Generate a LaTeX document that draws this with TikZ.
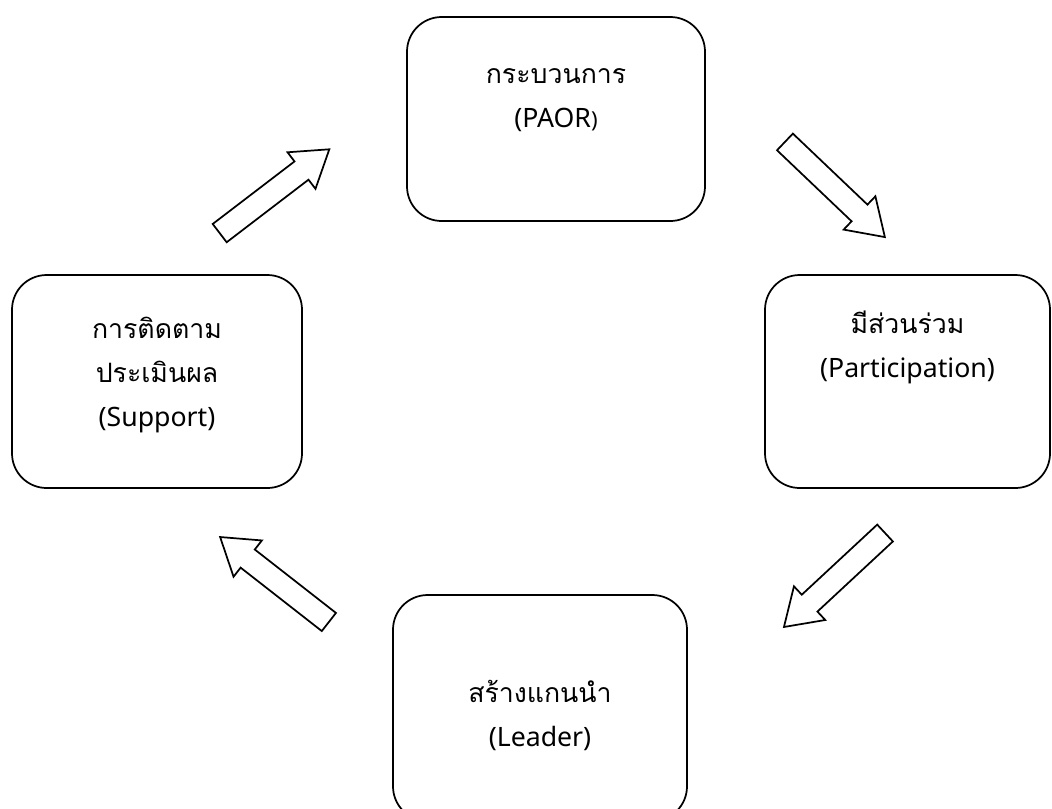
\documentclass[tikz,border=0pt]{standalone}
\usepackage{fontspec}
\setmainfont{Noto Sans}
\newfontfamily\thaifont[Script=Thai]{Loma}
\usetikzlibrary{
  positioning
}
\newcommand{\boxfont}{\fontsize{20}{33}\selectfont}

\begin{document}
\begin{tikzpicture}[
      x=0.75pt, y=-0.75pt,
      stagebox/.style={
         rectangle,
         rounded corners=26pt,
         line width=1.3pt,
         draw=black,
         fill=white,
      },
      stagetext/.style={
         align=center,
         inner sep=0pt,
         font=\boxfont,
      },
      arrowline/.style={draw=black, line width=1.3pt, fill=white, line join=miter},
      cyclearrow/.pic={
         \path[arrowline] (-69,-11.5) -- (34,-11.5) -- (34,-23) -- (69,0)
            -- (34,23) -- (34,11.5) -- (-69,11.5) -- cycle;
      },
    ]
    \clip (0,0) rectangle (1052,808);
    \node (proc) [stagebox, minimum width=223.5pt, minimum height=153pt] at (556,119) {};
    \node (part) [stagebox, minimum width=213.75pt, minimum height=159.75pt] at (907.5,381.5) {};
    \node (lead) [stagebox, minimum width=220.5pt, minimum height=169.5pt] at (540,708) {};
    \node (supp) [stagebox, minimum width=217.5pt, minimum height=159.75pt] at (157,381.5) {};

    \node (procT) [stagetext, below=27pt of proc.north] {\strut{\thaifont กระบวนการ}\\\strut(PAOR{\fontsize{16.5}{33}\selectfont)}};
    \node (partT) [stagetext, below=21.2pt of part.north] {\strut{\thaifont มีส่วนร่วม}\\\strut(Participation)};
    \node (leadT) [stagetext, below=57.9pt of lead.north] {\strut{\thaifont สร้างแกนนำ}\\\strut(Leader)};
    \node (suppT) [stagetext, below=24.9pt of supp.north] {\strut{\thaifont การติดตาม}\\\strut{\thaifont ประเมินผล}\\\strut(Support)};

    \pic[rotate=37.4] at (274.5,191.2) {cyclearrow};
    \pic[rotate=-43.6] at (834.9,189.5) {cyclearrow};
    \pic[rotate=222.9] at (834.5,580) {cyclearrow};
    \pic[rotate=142] at (274.5,579.5) {cyclearrow};
\end{tikzpicture}
\end{document}
